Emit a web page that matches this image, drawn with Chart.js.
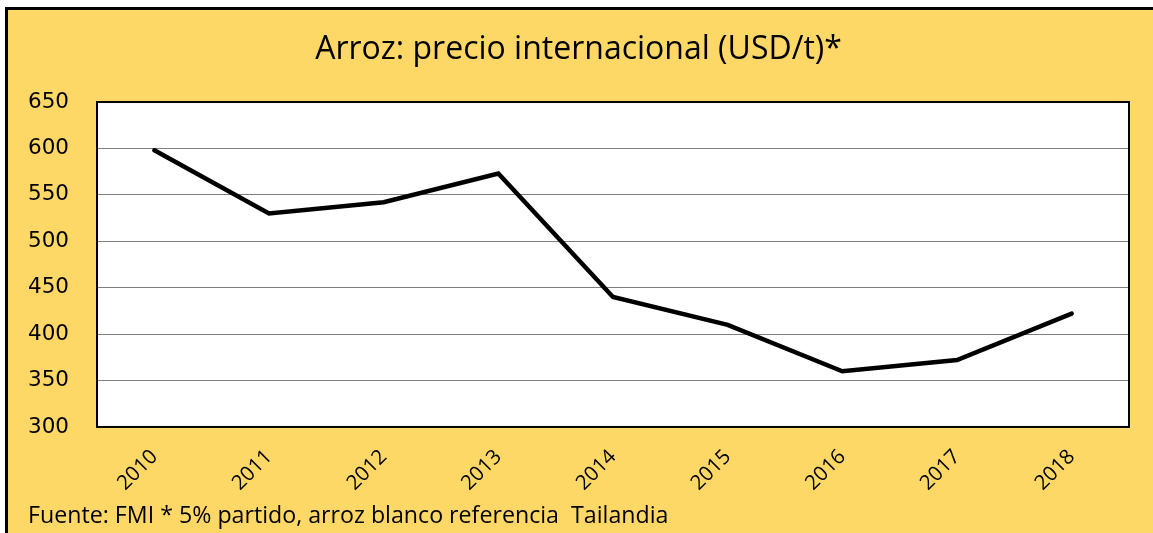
<!DOCTYPE html>
<html><head><meta charset="utf-8">
<script src="https://cdn.jsdelivr.net/npm/chart.js@4/dist/chart.umd.min.js"></script>
<style>html,body{margin:0;padding:0;background:#fff;overflow:hidden}</style>
</head><body>
<canvas id="c" width="1153" height="533"></canvas>
<script>
const years = ['2010','2011','2012','2013','2014','2015','2016','2017','2018'];
const prices = [598, 530, 542, 573, 440, 410, 360, 372, 422];
const yMin = 300, yMax = 650, yStep = 50;
const titleText = 'Arroz: precio internacional (USD/t)*';
const sourceText = 'Fuente: FMI * 5% partido, arroz blanco referencia  Tailandia';

const frame = {
  id: 'frame',
  beforeDraw(chart) {
    const ctx = chart.ctx, W = chart.width, H = chart.height, a = chart.chartArea;
    ctx.save();
    ctx.fillStyle = '#ffffff'; ctx.fillRect(0, 0, W, H);
    ctx.fillStyle = '#000000'; ctx.fillRect(5, 7, W - 5, 3); ctx.fillRect(5, 7, 3, H - 7);
    ctx.fillStyle = '#FED866'; ctx.fillRect(8, 10, W - 8, H - 10);
    ctx.fillStyle = '#ffffff'; ctx.fillRect(a.left, a.top, a.right - a.left, a.bottom - a.top);
    ctx.restore();
  },
  beforeDatasetsDraw(chart) {
    const ctx = chart.ctx, a = chart.chartArea;
    ctx.save();
    ctx.strokeStyle = '#000000'; ctx.lineWidth = 2;
    ctx.strokeRect(a.left, a.top, a.right - a.left, a.bottom - a.top);
    ctx.restore();
  }
};

new Chart(document.getElementById('c'), {
  type: 'line',
  data: { labels: years, datasets: [{
    data: prices, borderColor: '#000000', borderWidth: 4.5, pointRadius: 0,
    tension: 0, fill: false, borderCapStyle: 'round', borderJoinStyle: 'miter'
  }]},
  options: {
    responsive: false, animation: false, devicePixelRatio: 1,
    layout: { padding: { left: 28, right: 24, top: 10, bottom: 0 } },
    plugins: {
      legend: { display: false }, tooltip: { enabled: false },
      title: { display: true, text: titleText, color: '#000',
        font: { family: 'Open Sans', size: 32, weight: 'normal' },
        padding: { top: 21, bottom: 32.6 } },
      subtitle: { display: true, text: sourceText, position: 'bottom', align: 'start', color: '#000',
        font: { family: 'Open Sans', size: 23.2, weight: 'normal' },
        padding: { top: 0, bottom: 2.2 } }
    },
    scales: {
      x: {
        offset: true,
        grid: { display: false, drawTicks: false },
        border: { display: false },
        ticks: { color: '#000', minRotation: 45, maxRotation: 45, padding: 18,
          font: { family: 'Open Sans', size: 20.5, weight: '500' } },
        afterFit(s) { s.height = 76; }
      },
      y: {
        min: yMin, max: yMax,
        grid: { color: '#7f7f7f', lineWidth: 1, drawTicks: false },
        border: { display: false },
        ticks: { stepSize: yStep, color: '#000', padding: 28,
          font: { family: 'DejaVu Sans', size: 21.5 } },
        afterFit(s) { s.width = 69; }
      }
    }
  },
  plugins: [frame]
});
</script>
</body></html>
